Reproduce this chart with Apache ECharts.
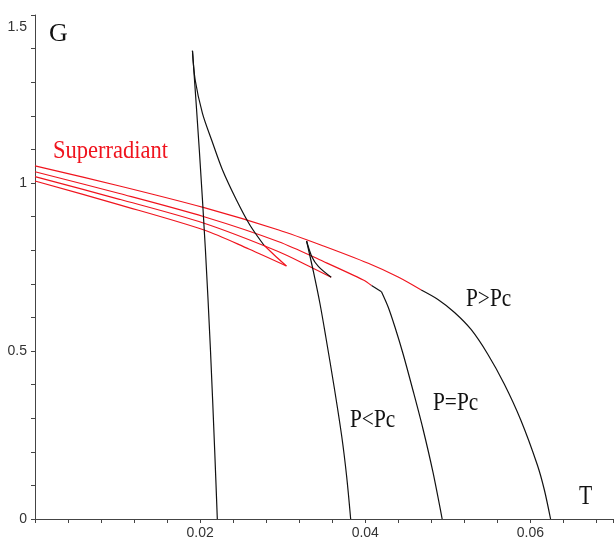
<!DOCTYPE html>
<html>
<head>
<meta charset="utf-8">
<script src="https://cdn.jsdelivr.net/npm/echarts@6/dist/echarts.min.js"></script>
<style>
  html, body { margin: 0; padding: 0; background: #fff; }
  #chart { width: 616px; height: 540px; }
</style>
</head>
<body>
<div id="chart"></div>
<script>
// [T, G] points, one array per branch
const superTop = [[0, 1.051], [0.01024, 0.991], [0.02048, 0.9265], [0.02952, 0.8601], [0.03494, 0.8125], [0.04036, 0.761], [0.04398, 0.7202], [0.04678, 0.6815]];
const superSecond = [[0, 1.0336], [0.01024, 0.9688], [0.02048, 0.8997], [0.02952, 0.8253], [0.03494, 0.7664], [0.03976, 0.7113], [0.04076, 0.6949]];
const superThird = [[0, 1.0188], [0.01024, 0.9515], [0.02048, 0.8801], [0.02952, 0.7955], [0.03313, 0.753], [0.03587, 0.7193]];
const superFourth = [[0, 1.006], [0.01024, 0.9351], [0.02048, 0.8601], [0.0259, 0.8036], [0.03045, 0.753]];
const lowTail = [[0.03045, 0.753], [0.02904, 0.7842], [0.02771, 0.8155]];

const pAbove = [[0.04678, 0.6815], [0.0488, 0.6533], [0.05081, 0.6146], [0.05281, 0.564], [0.05482, 0.4911], [0.05683, 0.4018], [0.05883, 0.2946], [0.06084, 0.1607], [0.06169, 0.0863], [0.06244, 0]];
const pEqualLead = [[0.04076, 0.6949], [0.04196, 0.6765]];
const pEqual = [[0.04196, 0.6765], [0.04277, 0.631], [0.04361, 0.5699], [0.04458, 0.4911], [0.04578, 0.3824], [0.04699, 0.2679], [0.04819, 0.1399], [0.04931, 0]];
const pBelowUpper = [[0.03587, 0.7193], [0.03434, 0.7509], [0.03353, 0.7807], [0.03289, 0.8274]];
const pBelowSteep = [[0.03289, 0.8274], [0.0337, 0.7381], [0.03452, 0.6399], [0.03522, 0.5417], [0.03623, 0.3929], [0.03716, 0.244], [0.03775, 0.125], [0.03823, 0]];
const lowUpper = [[0.02771, 0.8155], [0.02602, 0.875], [0.0244, 0.9494], [0.02271, 1.0387], [0.02139, 1.128], [0.02028, 1.2074], [0.0194, 1.3065], [0.01907, 1.3938]];
const lowSteep = [[0.01907, 1.3938], [0.0199, 1.0982], [0.02064, 0.8006], [0.02125, 0.503], [0.02176, 0.2054], [0.02208, 0]];

const xLabels = [0.02, 0.04, 0.06];
const yLabels = [0, 0.5, 1, 1.5];

const RED = '#f0141e';
const BLACK = '#111';

const branches = [
  { data: superTop, color: RED, smooth: 0.3 },
  { data: superSecond, color: RED, smooth: 0.3 },
  { data: superThird, color: RED, smooth: 0.3 },
  { data: superFourth, color: RED, smooth: 0.3 },
  { data: lowTail, color: RED, smooth: 0.2 },
  { data: pAbove, color: BLACK, smooth: 0.3 },
  { data: pEqualLead, color: BLACK, smooth: 0 },
  { data: pEqual, color: BLACK, smooth: 0.3 },
  { data: pBelowUpper, color: BLACK, smooth: 0.3 },
  { data: pBelowSteep, color: BLACK, smooth: 0.3 },
  { data: lowUpper, color: BLACK, smooth: 0.3 },
  { data: lowSteep, color: BLACK, smooth: 0.3 },
];

const near = (v, list) => list.some(l => Math.abs(v - l) < 1e-7);

// serif labels drawn in the figure
function label(text, x, y, size, scaleX, color) {
  return {
    type: 'text', x, y, scaleX, silent: true,
    style: {
      text, fill: color || '#111', font: size + 'px "Liberation Serif", "DejaVu Serif", serif',
      textVerticalAlign: 'middle', textAlign: 'left',
    },
  };
}

const chart = echarts.init(document.getElementById('chart'));
chart.setOption({
  animation: false,
  grid: { left: 35, right: 0, top: 15, bottom: 21, containLabel: false },
  xAxis: {
    type: 'value', min: 0, max: 0.07, interval: 0.004,
    axisLine: { lineStyle: { color: '#444', width: 1 } },
    axisTick: { length: 4, lineStyle: { color: '#444' } },
    splitLine: { show: false },
    axisLabel: {
      margin: 7, color: '#333', fontSize: 14, fontFamily: '"Liberation Sans", Arial, sans-serif',
      formatter: v => (near(v, xLabels) ? String(+v.toFixed(2)) : ''),
    },
  },
  yAxis: {
    type: 'value', min: 0, max: 1.5, interval: 0.1,
    axisLine: { show: true, lineStyle: { color: '#444', width: 1 } },
    axisTick: { show: true, length: 4, lineStyle: { color: '#444' } },
    splitLine: { show: false },
    axisLabel: {
      margin: 8, color: '#333', fontSize: 14, fontFamily: '"Liberation Sans", Arial, sans-serif',
      formatter: v => {
        if (!near(v, yLabels)) return '';
        const s = String(+v.toFixed(1));
        return near(v, [1.5]) ? '{top|' + s + '}' : s;
      },
      rich: { top: { padding: [24, 0, 0, 0], fontSize: 14, color: '#333' } },
    },
  },
  graphic: [
    label('G', 49, 34, 26, 1),
    label('T', 579, 497, 27, 0.8),
    label('Superradiant', 53, 151, 25, 0.9, RED),
    label('P>Pc', 466, 299, 26, 0.82),
    label('P=Pc', 433, 403, 26, 0.82),
    label('P<Pc', 350, 420, 26, 0.82),
  ],
  series: branches.map(b => ({
    type: 'line',
    data: b.data,
    smooth: b.smooth,
    symbol: 'none',
    lineStyle: { color: b.color, width: 1.2 },
    silent: true,
  })),
});
</script>
</body>
</html>
